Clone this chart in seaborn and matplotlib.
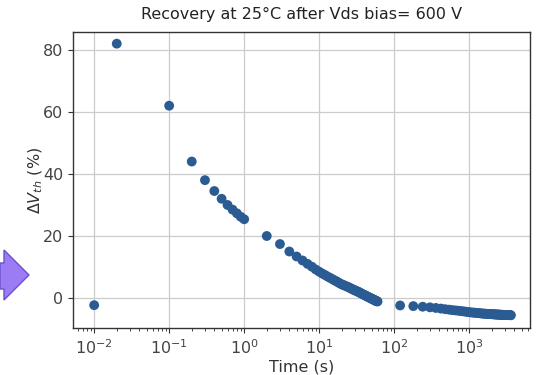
import matplotlib
matplotlib.use("Agg")
import matplotlib.pyplot as plt
import seaborn as sns
import pandas as pd
from matplotlib.patches import Polygon

time_s = [0.01, 0.02,
          0.1, 0.2, 0.3, 0.4, 0.5, 0.6, 0.7, 0.8, 0.9, 1.0,
          2, 3, 4, 5, 6, 7, 8, 9, 10,
          11, 12, 13, 14, 15, 16, 17, 18, 19, 20,
          21, 22, 23, 24, 25, 26, 27, 28, 29, 30,
          31, 32, 33, 34, 35, 36, 37, 38, 39, 40,
          41, 42, 43, 44, 45, 46, 47, 48, 49, 50,
          51, 52, 53, 54, 55, 56, 57, 58, 59, 60,
          120, 180, 240, 300, 360, 420, 480, 540, 600, 660,
          720, 780, 840, 900, 960, 1020, 1080, 1140, 1200, 1260,
          1320, 1380, 1440, 1500, 1560, 1620, 1680, 1740, 1800, 1860,
          1920, 1980, 2040, 2100, 2160, 2220, 2280, 2340, 2400, 2460,
          2520, 2580, 2640, 2700, 2760, 2820, 2880, 2940, 3000, 3060,
          3120, 3180, 3240, 3300, 3360, 3420, 3480, 3540, 3600]

delta_vth = [-2.3, 82.0,
             62.0, 44.0, 38.0, 34.5, 32.0, 30.0, 28.5, 27.3, 26.2, 25.4,
             20.0, 17.4, 15.0, 13.4, 12.1, 11.0, 10.1, 9.2, 8.5,
             7.9, 7.4, 6.9, 6.5, 6.1, 5.7, 5.4, 5.0, 4.7, 4.4,
             4.2, 4.0, 3.8, 3.6, 3.4, 3.2, 3.0, 2.8, 2.6, 2.5,
             2.3, 2.2, 2.0, 1.9, 1.7, 1.55, 1.4, 1.25, 1.1, 1.0,
             0.85, 0.7, 0.6, 0.45, 0.35, 0.25, 0.1, 0.0, -0.1, -0.2,
             -0.3, -0.4, -0.5, -0.6, -0.7, -0.8, -0.9, -1.0, -1.05, -1.1,
             -2.4, -2.6, -2.8, -3.0, -3.2, -3.4, -3.6, -3.75, -3.9, -4.0,
             -4.1, -4.2, -4.3, -4.4, -4.5, -4.6, -4.65, -4.7, -4.75, -4.8,
             -4.85, -4.9, -4.95, -5.0, -5.02, -5.05, -5.08, -5.1, -5.12, -5.15,
             -5.18, -5.2, -5.22, -5.24, -5.26, -5.28, -5.3, -5.31, -5.33, -5.34,
             -5.36, -5.37, -5.38, -5.4, -5.41, -5.42, -5.43, -5.44, -5.45, -5.46,
             -5.47, -5.48, -5.49, -5.5, -5.5, -5.51, -5.52, -5.53, -5.54]

title = "Recovery at 25°C after Vds bias= 600 V"
xlabel = "Time (s)"
ylabel = r"$\Delta V_{th}$ (%)"
yticks = [0, 20, 40, 60, 80]
xticks = [1e-2, 1e-1, 1e0, 1e1, 1e2, 1e3]
xticklabels = [r"$10^{-2}$", r"$10^{-1}$", r"$10^{0}$", r"$10^{1}$", r"$10^{2}$", r"$10^{3}$"]

df = pd.DataFrame({"t": time_s, "dv": delta_vth})

sns.set_style("ticks")
plt.rcParams["font.family"] = ["DejaVu Sans"]

fig = plt.figure(figsize=(5.38, 3.75), dpi=100)
ax = fig.add_axes([0.136, 0.125, 0.849, 0.79])

sns.scatterplot(data=df, x="t", y="dv", ax=ax, s=50, color="#2b5b93",
                edgecolor="none", linewidth=0, zorder=3)
ax.set_xscale("log")
ax.set_xlim(10 ** -2.28, 10 ** 3.81)
ax.set_ylim(-9.7, 85.8)
ax.set_xticks(xticks)
ax.set_xticklabels(xticklabels)
ax.set_yticks(yticks)
ax.grid(True, which="major", color="#cccccc", linewidth=0.9)
ax.set_axisbelow(True)
for sp in ax.spines.values():
    sp.set_color("#333333")
    sp.set_linewidth(1.0)
ax.tick_params(axis="both", labelsize=11.5, colors="#333333", labelcolor="#444444")
ax.set_xlabel(xlabel, fontsize=11.5, color="#333333", labelpad=2)
ax.set_ylabel(ylabel, fontsize=11.5, color="#333333", labelpad=-1.5)
ax.set_title(title, fontsize=11.5, color="#222222", pad=9)

# decorative arrow at left edge (pixel coords, top-left origin -> figure fraction)
verts = [[x / 538, 1 - y / 375] for x, y in
         [[0, 263], [4, 263], [4, 250], [29, 275], [4, 300], [4, 289], [0, 289]]]
arrow = Polygon(verts, closed=True, facecolor="#9b7cf4", edgecolor="#6a4fd0",
                linewidth=1.0, transform=fig.transFigure, clip_on=False)
fig.patches.append(arrow)

fig.savefig("out.png", dpi=100)
